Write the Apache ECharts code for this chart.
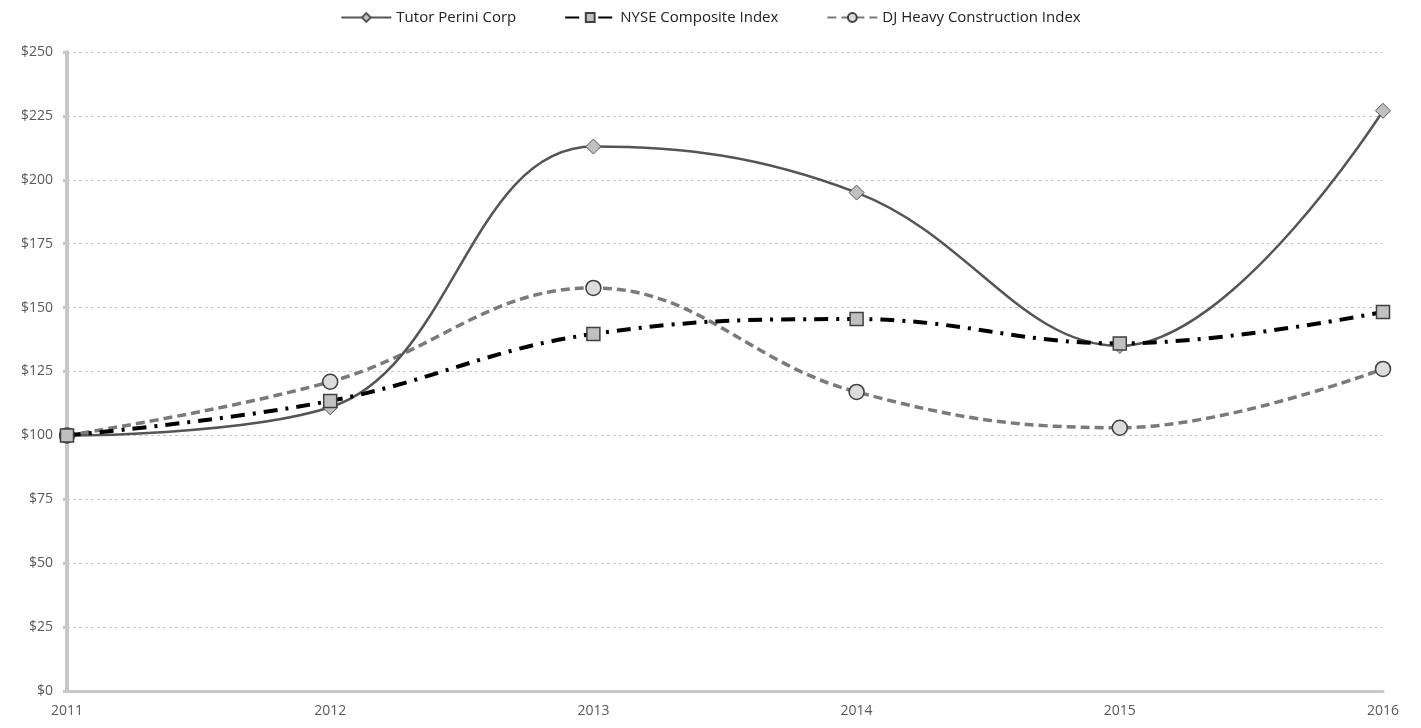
<!DOCTYPE html>
<html><head><meta charset="utf-8">
<script src="https://cdn.jsdelivr.net/npm/echarts@6/dist/echarts.min.js"></script>
<style>html,body{margin:0;padding:0;background:#fff;}#c{width:1421px;height:728px;}</style>
</head><body><div id="c"></div>
<script>
const years = ['2011','2012','2013','2014','2015','2016'];
const tutorPerini = [100, 111, 213, 195, 135, 227];
const nyseComposite = [100, 113.5, 139.7, 145.5, 136, 148.3];
const djHeavyConstruction = [100, 121, 157.7, 117, 103, 126];
const seriesNames = ['Tutor Perini Corp', 'NYSE Composite Index', 'DJ Heavy Construction Index'];

const chart = echarts.init(document.getElementById('c'));
chart.setOption({
  animation: false,
  backgroundColor: '#fff',
  legend: {
    top: 5, left: 'center', itemGap: 48, itemWidth: 50, itemHeight: 11,
    textStyle: { fontFamily: 'Open Sans, sans-serif', fontSize: 15, color: '#222' },
    data: seriesNames
  },
  grid: { left: 67, right: 38, top: 52, bottom: 37 },
  xAxis: {
    type: 'category', data: years, boundaryGap: false,
    axisLine: { lineStyle: { color: '#c8c8c8', width: 3 } },
    axisTick: { show: false },
    axisLabel: { color: '#595959', fontSize: 14, margin: 13, fontFamily: 'Open Sans, sans-serif' }
  },
  yAxis: {
    type: 'value', min: 0, max: 250, interval: 25,
    axisLine: { show: true, lineStyle: { color: '#c8c8c8', width: 4 } },
    axisTick: { show: true, length: 4, lineStyle: { color: '#c8c8c8', width: 3 } },
    axisLabel: { color: '#595959', fontSize: 14, margin: 14, formatter: v => '$' + v, fontFamily: 'Open Sans, sans-serif' },
    splitLine: { lineStyle: { color: '#c8c8c8', type: [3, 3], width: 1 } }
  },
  series: [
    {
      name: seriesNames[0], type: 'line', data: tutorPerini, smooth: 0.4, z: 3,
      symbol: 'diamond', symbolSize: 15,
      lineStyle: { color: '#555555', width: 2.5 },
      itemStyle: { color: '#c0c0c0', borderColor: '#555555', borderWidth: 1 }
    },
    {
      name: seriesNames[1], type: 'line', data: nyseComposite, smooth: 0.4, z: 4,
      symbol: 'rect', symbolSize: 13,
      lineStyle: { color: '#000000', width: 4, type: [14, 8, 3, 8] },
      itemStyle: { color: '#c0c0c0', borderColor: '#404040', borderWidth: 1.5 }
    },
    {
      name: seriesNames[2], type: 'line', data: djHeavyConstruction, smooth: 0.4, z: 2,
      symbol: 'circle', symbolSize: 15,
      lineStyle: { color: '#7a7a7a', width: 3.5, type: [9, 5] },
      itemStyle: { color: '#dcdcdc', borderColor: '#404040', borderWidth: 1.5 }
    }
  ]
});
</script></body></html>
